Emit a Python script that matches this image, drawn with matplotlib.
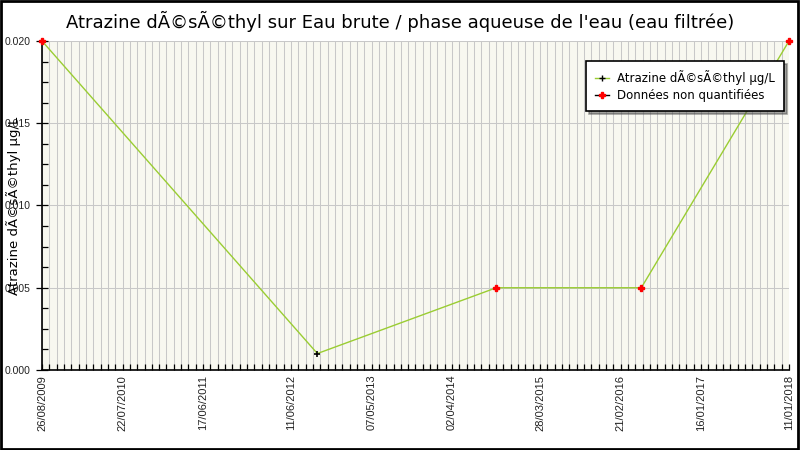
import datetime as dt
import matplotlib
matplotlib.use("Agg")
import matplotlib.pyplot as plt
from matplotlib.lines import Line2D
from matplotlib.patches import Rectangle

# data
dates = ["26/08/2009", "27/09/2012", "30/09/2014", "16/05/2016", "11/01/2018"]
values = [0.020, 0.001, 0.005, 0.005, 0.020]
quantified = [False, True, False, False, False]

tick_labels = ["26/08/2009", "22/07/2010", "17/06/2011", "11/06/2012", "07/05/2013",
               "02/04/2014", "28/03/2015", "21/02/2016", "16/01/2017", "11/01/2018"]
y_ticks = [0.000, 0.005, 0.010, 0.015, 0.020]

title = "Atrazine dÃ©sÃ©thyl sur Eau brute / phase aqueuse de l'eau (eau filtrée)"
ylabel = "Atrazine dÃ©sÃ©thyl µg/L"
legend_labels = ["Atrazine dÃ©sÃ©thyl µg/L", "Données non quantifiées"]


def parse(s):
    return dt.datetime.strptime(s, "%d/%m/%Y")


x = [parse(d) for d in dates]
xt = [parse(d) for d in tick_labels]
start, end = xt[0], xt[-1]

fig = plt.figure(figsize=(8, 4.5), dpi=100)
ax = fig.add_axes([0.0525, 0.1778, 0.93375, 0.7311])
ax.set_facecolor("#f8f8f0")

line_col = "#9acd32"
ax.plot(x, values, color=line_col, lw=1, zorder=3)
for xi, v, q in zip(x, values, quantified):
    if q:
        ax.plot(xi, v, marker="+", color="black", ms=5, mew=1.2, zorder=4, clip_on=False)
    else:
        ax.plot(xi, v, marker="P", color="red", mec="red", ms=5, zorder=4, clip_on=False)

ax.set_xlim(start, end)
ax.set_ylim(0, 0.02)

# minor ticks every 30 days, labelled dates on top
minor = []
d = start
while d <= end:
    minor.append(d)
    d += dt.timedelta(days=30)
ax.set_xticks(minor, minor=True)
ax.set_xticks(xt)
ax.set_xticklabels(tick_labels, rotation=90, fontsize=8, family="Liberation Sans", color="#222222")
ax.tick_params(axis="x", which="both", direction="in", length=4, width=0.9)
ax.grid(True, axis="x", which="both", color="#c8c8c8", lw=0.75)

ax.set_yticks(y_ticks)
ax.set_yticklabels([f"{v:.3f}" for v in y_ticks], fontsize=7.5, family="Liberation Sans", color="#222222")
ax.set_yticks([i * 0.00125 for i in range(17)], minor=True)
ax.tick_params(axis="y", which="major", direction="inout", length=9, width=0.9)
ax.tick_params(axis="y", which="minor", direction="in", length=4, width=0.9)
ax.grid(True, axis="y", which="major", color="#c8c8c8", lw=0.75)
ax.set_axisbelow(True)

for s in ["top", "right"]:
    ax.spines[s].set_visible(False)
ax.spines["left"].set_linewidth(1.2)
ax.spines["bottom"].set_linewidth(1.2)

ax.set_ylabel(ylabel, fontsize=9.5, family="DejaVu Sans")
ax.yaxis.set_label_coords(-0.028, 0.5)

fig.text(0.5, 0.953, title, ha="center", va="center", fontsize=13, family="DejaVu Sans")

handles = [
    Line2D([], [], color=line_col, lw=1, marker="+", mfc="black", mec="black", ms=4),
    Line2D([], [], color="black", lw=1, marker="P", mfc="red", mec="red", ms=4),
]
leg = ax.legend(handles, legend_labels, loc="upper right", bbox_to_anchor=(0.993, 0.939),
                borderaxespad=0, fancybox=False, shadow=True, framealpha=1,
                edgecolor="black", prop={"family": "DejaVu Sans", "size": 8.5},
                handlelength=1.2, handletextpad=0.7, borderpad=0.75, labelspacing=0.35)
leg.get_frame().set_linewidth(1.2)

fig.patches.append(Rectangle((0.001, 0.002), 0.997, 0.996, transform=fig.transFigure,
                             fill=False, edgecolor="black", lw=2))

fig.savefig("out.png", dpi=100)
